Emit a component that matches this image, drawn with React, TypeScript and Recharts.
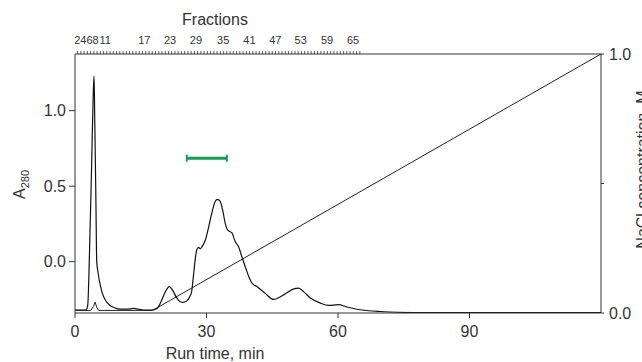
import React from 'react';
import { ComposedChart, Line, XAxis, YAxis, Label } from 'recharts';

// A280 chromatogram (run time in min, absorbance)
const a280Time = [0, 2.5, 2.9, 3.3, 3.8, 4.15, 4.35, 4.5, 4.75, 4.96, 5.3, 5.8, 6.5, 7.3, 8.0, 9.0, 10.3, 12.0, 13.3, 14.5, 15.6, 17.5, 18.7, 19.7, 20.6, 21.5, 22.3, 23.2, 24.0, 24.7, 25.5, 26.2, 26.6, 27.0, 27.4, 27.8, 28.2, 28.6, 29.0, 29.7, 30.5, 31.2, 32.0, 32.5, 33.1, 33.7, 34.3, 34.8, 35.8, 36.6, 37.3, 38.1, 39.1, 39.8, 40.4, 41.5, 43.4, 45.3, 47.6, 49.9, 51.0, 52.2, 53.7, 56.0, 57.9, 60.1, 62.0, 64.3, 67.0, 69.7, 73.5, 80, 120];
const a280Value = [-0.32, -0.32, -0.29, 0.05, 0.65, 1.1, 1.23, 0.95, 0.45, 0.0, -0.08, -0.16, -0.23, -0.27, -0.29, -0.305, -0.315, -0.315, -0.31, -0.315, -0.32, -0.32, -0.31, -0.26, -0.2, -0.165, -0.19, -0.24, -0.265, -0.27, -0.26, -0.23, -0.2, -0.1, 0.01, 0.08, 0.095, 0.085, 0.1, 0.14, 0.23, 0.32, 0.4, 0.413, 0.4, 0.34, 0.25, 0.21, 0.19, 0.13, 0.1, 0.03, -0.055, -0.11, -0.143, -0.165, -0.21, -0.25, -0.22, -0.18, -0.175, -0.2, -0.24, -0.275, -0.29, -0.285, -0.3, -0.315, -0.325, -0.33, -0.335, -0.338, -0.338];

// NaCl gradient (run time in min, concentration in M)
const naclTime = [0, 3.6, 4.2, 4.6, 5.0, 5.4, 17.7, 120];
const naclValue = [0.01, 0.01, 0.025, 0.042, 0.02, 0.01, 0.01, 1.0];

// Pooled fractions marker
const poolTime = [25.5, 34.65];
const poolLevel = [0.685, 0.685];

// Axes
const runTimeTicks = [0, 30, 60, 90];
const a280Ticks = [0, 0.5, 1.0];
const naclTicks = [0, 0.5, 1.0];
const naclTickLabels = ['0.0', '', '1.0'];
const fractionLabels = ['2', '4', '6', '8', '11', '17', '23', '29', '35', '41', '47', '53', '59', '65'];
const fractionLabelTimes = [0.5, 1.9, 3.3, 4.7, 6.9, 15.8, 21.7, 27.6, 33.8, 39.8, 45.7, 51.5, 57.5, 63.45];
const fractionTickTimes = Array.from({ length: 88 }, (_, i) => +(0.6 + i * 0.74).toFixed(2));

const a280Data = a280Time.map((t, i) => ({ t, v: a280Value[i] }));
const naclData = naclTime.map((t, i) => ({ t, c: naclValue[i] }));
const poolData = poolTime.map((t, i) => ({ t, g: poolLevel[i] }));
const topAxisTicks = [
  ...fractionTickTimes.filter((t) => !fractionLabelTimes.includes(t)),
  ...fractionLabelTimes,
];

const FONT = 'Liberation Sans, Arial, Helvetica, sans-serif';
const TEXT = '#333';
const AXIS = '#333';
const GREEN = '#12a150';

const FractionTick = (props: any) => {
  const { x, y, payload, index } = props;
  const labelIdx = index - (topAxisTicks.length - fractionLabelTimes.length);
  if (labelIdx >= 0) {
    return (
      <text x={x} y={y - 10} textAnchor="middle" fontSize={11} fontFamily={FONT} fill={TEXT}>
        {fractionLabels[labelIdx]}
      </text>
    );
  }
  return <line x1={x} x2={x} y1={y} y2={y - 3} stroke={AXIS} strokeWidth={0.8} />;
};

const CapDot = (props: any) => {
  const { cx, cy } = props;
  if (cx == null || cy == null) return null;
  return <line x1={cx} x2={cx} y1={cy - 3.5} y2={cy + 3.5} stroke={GREEN} strokeWidth={2} />;
};

const NaclTick = (props: any) => {
  const { x, y, index } = props;
  return (
    <text x={x} y={y} dy="0.35em" textAnchor="start" fontSize={16} fontFamily={FONT} fill={TEXT}>
      {naclTickLabels[index] ?? ''}
    </text>
  );
};

export default function App() {
  return (
    <div style={{ position: 'absolute', left: 0, top: 0, width: 642, height: 362, background: '#fff' }}>
      <ComposedChart width={642} height={362} margin={{ top: 0, right: 0, bottom: 0, left: 0 }}>
        <XAxis
          xAxisId="run"
          dataKey="t"
          type="number"
          domain={[0, 120]}
          ticks={runTimeTicks}
          interval={0}
          height={49}
          tickSize={5}
          tickMargin={8}
          stroke={AXIS}
          tick={{ fontSize: 16, fontFamily: FONT, fill: TEXT }}
          allowDataOverflow
        >
          <Label
            content={({ viewBox }: any) => (
              <text x={viewBox.x + 140} y={viewBox.y + 46} textAnchor="middle" fontSize={16} fontFamily={FONT} fill={TEXT}>
                Run time, min
              </text>
            )}
          />
        </XAxis>
        <XAxis
          xAxisId="frac"
          orientation="top"
          dataKey="t"
          type="number"
          domain={[0, 120]}
          ticks={topAxisTicks}
          interval={0}
          height={54}
          tickSize={0}
          tickMargin={0}
          tickLine={false}
          tick={<FractionTick />}
          stroke={AXIS}
          allowDataOverflow
        >
          <Label
            content={({ viewBox }: any) => (
              <text x={viewBox.x + 140} y={24.5} textAnchor="middle" fontSize={16} fontFamily={FONT} fill={TEXT}>
                Fractions
              </text>
            )}
          />
        </XAxis>
        <YAxis
          yAxisId="a280"
          orientation="left"
          type="number"
          domain={[-0.34, 1.375]}
          ticks={a280Ticks}
          interval={0}
          width={75}
          tickSize={6}
          tickMargin={3}
          stroke={AXIS}
          tickFormatter={(v: number) => v.toFixed(1)}
          tick={{ fontSize: 16, fontFamily: FONT, fill: TEXT }}
          allowDataOverflow
        >
          <Label
            content={({ viewBox }: any) => {
              const cx = 19;
              const cy = viewBox.y + viewBox.height / 2 + 1;
              return (
                <text transform={`rotate(-90, ${cx}, ${cy})`} x={cx} y={cy} dy="0.35em" textAnchor="middle" fontSize={16} fontFamily={FONT} fill={TEXT}>
                  A<tspan fontSize={11} dy={4}>280</tspan>
                </text>
              );
            }}
          />
        </YAxis>
        <YAxis
          yAxisId="nacl"
          orientation="right"
          type="number"
          domain={[0, 1]}
          ticks={naclTicks}
          interval={0}
          width={41}
          tickSize={3}
          tickMargin={5}
          stroke={AXIS}
          tick={<NaclTick />}
          allowDataOverflow
        >
          <Label
            content={({ viewBox }: any) => {
              const cx = 642;
              const cy = viewBox.y + viewBox.height / 2 - 14;
              return (
                <text transform={`rotate(-90, ${cx}, ${cy})`} x={cx} y={cy} dy="0.35em" textAnchor="middle" fontSize={16} fontFamily={FONT} fill={TEXT}>
                  NaCl concentration, M
                </text>
              );
            }}
          />
        </YAxis>
        <Line
          data={naclData}
          xAxisId="run"
          yAxisId="nacl"
          dataKey="c"
          type="linear"
          stroke="#222"
          strokeWidth={1}
          dot={false}
          activeDot={false}
          isAnimationActive={false}
        />
        <Line
          data={a280Data}
          xAxisId="run"
          yAxisId="a280"
          dataKey="v"
          type="monotone"
          stroke="#111"
          strokeWidth={1.2}
          dot={false}
          activeDot={false}
          isAnimationActive={false}
        />
        <Line
          data={poolData}
          xAxisId="run"
          yAxisId="a280"
          dataKey="g"
          type="linear"
          stroke={GREEN}
          strokeWidth={3}
          dot={<CapDot />}
          activeDot={false}
          isAnimationActive={false}
        />
      </ComposedChart>
    </div>
  );
}
